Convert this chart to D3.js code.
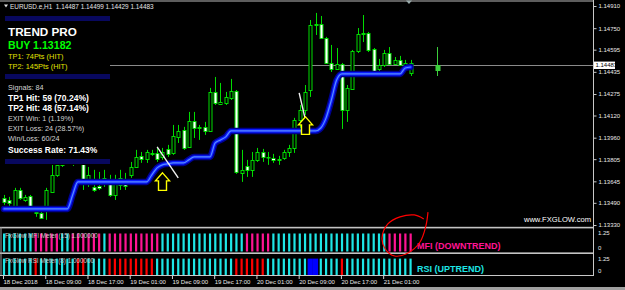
<!DOCTYPE html>
<html><head><meta charset="utf-8">
<script src="https://cdn.jsdelivr.net/npm/d3@7"></script>
<style>html,body{margin:0;padding:0;background:#000;overflow:hidden}svg{display:block}text{font-family:"Liberation Sans",Arial,sans-serif}</style>
</head><body><svg id="c" width="625" height="290"></svg>
<script>
// ---------- DATA (EURUSD H1, bar index 0 = 18 Dec 01:00) ----------
const openP  = [1.13526,1.13511,1.13468,1.13583,1.13511,1.13540,1.13418,1.13418,1.13468,1.13569,
1.13692,1.13764,1.13872,1.13785,1.13857,1.13778,1.13641,1.13605,1.13612,1.13641,
1.13634,1.13547,1.13619,1.13656,1.13692,1.13749,1.13829,1.13807,1.13850,1.13850,
1.13821,1.13879,1.13850,1.13966,1.14016,1.13893,1.14081,1.14038,1.14038,1.14009,
1.14290,1.14203,1.14211,1.14247,1.14297,1.13706,1.13756,1.13728,1.13800,1.13857,
1.13821,1.13814,1.13807,1.13814,1.13857,1.13886,1.14088,1.14160,1.14304,1.14780,
1.14780,1.14679,1.14499,1.14456,1.14492,1.14160,1.14312,1.14586,1.14715,1.14715,
1.14600,1.14456,1.14485,1.14571,1.14492,1.14521,1.14470,1.14427,null,null,null,null,1.14449];
const highP  = [1.13547,1.13533,1.13598,1.13598,1.13547,1.13547,1.13432,1.13425,1.13598,1.13778,
1.13800,1.13872,1.13908,1.13922,1.13893,1.13814,1.13749,1.13728,1.13713,1.13728,
1.13692,1.13692,1.13728,1.13706,1.13785,1.13872,1.13857,1.13872,1.13872,1.13893,
1.13886,1.13908,1.14052,1.14052,1.14038,1.14146,1.14146,1.14052,1.14074,1.14319,
1.14398,1.14355,1.14290,1.14384,1.14304,1.13872,1.13800,1.13857,1.13886,1.13879,
1.13857,1.13843,1.13829,1.13872,1.13908,1.14103,1.14196,1.14340,1.14809,1.14860,
1.14838,1.14687,1.14629,1.14607,1.14499,1.14340,1.14593,1.14751,1.14845,1.14723,
1.14607,1.14528,1.14593,1.14614,1.14542,1.14550,1.14521,1.14521,null,null,null,null,1.14614];
const lowP   = [1.13475,1.13468,1.13439,1.13511,1.13497,1.13461,1.13389,1.13374,1.13367,1.13562,
1.13677,1.13749,1.13778,1.13756,1.13764,1.13583,1.13605,1.13569,1.13583,1.13605,
1.13533,1.13511,1.13583,1.13583,1.13670,1.13742,1.13778,1.13778,1.13829,1.13785,
1.13800,1.13821,1.13836,1.13922,1.13872,1.13886,1.13958,1.13944,1.13980,1.14002,
1.14196,1.14196,1.14196,1.14232,1.13699,1.13641,1.13677,1.13677,1.13785,1.13785,
1.13764,1.13778,1.13764,1.13800,1.13821,1.13850,1.14016,1.14124,1.14254,1.14701,
1.14672,1.14492,1.14434,1.14449,1.14023,1.14074,1.14304,1.14571,1.14650,1.14578,
1.14434,1.14434,1.14470,1.14485,1.14485,1.14477,1.14449,1.14405,null,null,null,null,1.14405];
const closeP = [1.13497,1.13490,1.13583,1.13526,1.13533,1.13468,1.13425,1.13382,1.13583,1.13692,
1.13764,1.13814,1.13800,1.13872,1.13778,1.13656,1.13692,1.13583,1.13598,1.13670,
1.13547,1.13641,1.13670,1.13612,1.13749,1.13821,1.13807,1.13857,1.13846,1.13807,
1.13857,1.13843,1.13973,1.14009,1.13886,1.14081,1.14030,1.14034,1.14009,1.14290,
1.14211,1.14218,1.14254,1.14297,1.13713,1.13728,1.13728,1.13800,1.13857,1.13821,
1.13818,1.13800,1.13803,1.13857,1.13886,1.14088,1.14160,1.14290,1.14773,1.14776,
1.14679,1.14499,1.14456,1.14492,1.14160,1.14319,1.14586,1.14708,1.14711,1.14593,
1.14441,1.14485,1.14571,1.14492,1.14521,1.14485,1.14499,1.14499,null,null,null,null,1.14483];
const liveBar = 82;
// Trend Pro stop line (one value per bar 0..77)
const trendLine = [1.13446,1.13446,1.13446,1.13446,1.13446,1.13446,1.13446,1.13446,1.13446,1.13446,
1.13446,1.13446,1.13446,1.13547,1.13641,1.13641,1.13641,1.13641,1.13641,1.13641,
1.13641,1.13641,1.13641,1.13641,1.13641,1.13641,1.13641,1.13641,1.13692,1.13742,
1.13764,1.13771,1.13778,1.13778,1.13778,1.13800,1.13821,1.13821,1.13821,1.13821,
1.13922,1.13944,1.13966,1.14009,1.14009,1.14009,1.14009,1.14009,1.14009,1.14009,
1.14009,1.14009,1.14009,1.14009,1.14009,1.14009,1.14009,1.14009,1.14009,1.14009,
1.14030,1.14103,1.14232,1.14376,1.14420,1.14420,1.14420,1.14420,1.14420,1.14420,
1.14420,1.14420,1.14420,1.14420,1.14420,1.14420,1.14463,1.14470];
// MFI meter state per bar (U = up, D = down), RSI meter (U up, D down, N neutral)
const mfiState = ("UUUUUU"+"DDDDD"+"UU"+"DDDDDD"+"U"+"DDDDDDDDDD"+"UUUUUUUUUUUUUUUU"+"DDDDD"+"UUUUUUUUUUUUUUUUUUUUUU"+"DDDDD").split("");
const rsiState = ("UUUUUU"+"D"+"UUUUUUU"+"DD"+"UUUU"+"DDDDDDDDD"+"UUUUUUUUUUUUUUU"+"DDDDDD"+"UUUUUUUU"+"NN"+"UUUU"+"D"+"UUUUUUUUUUUUU").split("");
const meterValue = 1;
const priceTicks = [1.14910,1.14750,1.14595,1.14435,1.14275,1.14120,1.13960,1.13805,1.13645,1.13490,1.13330];
const timeTickBars = [0,8,16,24,32,40,48,56,64,72];
const timeLabels = ["18 Dec 2018","18 Dec 09:00","18 Dec 17:00","19 Dec 01:00","19 Dec 09:00","19 Dec 17:00","20 Dec 01:00","20 Dec 09:00","20 Dec 17:00","21 Dec 01:00"];
const currentPrice = 1.14483;
const headerText = "EURUSD.e,H1  1.14487 1.14499 1.14429 1.14483";
const signalBars = [30, 57];
const signalTips = [1.13706, 1.14110];
const exitLines = [[[29,1.13893],[33,1.13670]],[[55.9,1.14283],[57,1.14103]]];
const circleNote = [[80.3,2.19],[79.9,1.42],[78.8,0.53],[76.5,-0.08],[74.0,-0.25],[72.2,0.14],[71.6,0.75],[72.7,1.53],[75.0,1.92],[77.7,2.03],[79.5,1.81]];
const panelTitle = ["TREND PRO","BUY 1.13182","TP1: 74Pts (HIT)","TP2: 145Pts (HIT)"];
const statsLines = ["Signals: 84","TP1 Hit: 59 (70.24%)","TP2 Hit: 48 (57.14%)","EXIT Win: 1 (1.19%)","EXIT Loss: 24 (28.57%)","Win/Loss: 60/24","Success Rate: 71.43%"];

// ---------- DRAW ----------
const svg = d3.select('#c');
svg.append('rect').attr('width',625).attr('height',290).attr('fill','#000');
const x = d3.scaleLinear().domain([0,77]).range([4,410.56]);
const y = d3.scaleLinear().domain([1.13330,1.14910]).range([225,6]);
const mfiY = d3.scaleLinear().domain([0,1.25]).range([251.5,229]);
const rsiY = d3.scaleLinear().domain([0,1.25]).range([275,254.5]);
const AX = 593.5;
const GREEN = '#00dc00';

// frame lines
svg.append('line').attr('x1',0).attr('x2',AX).attr('y1',1).attr('y2',1).attr('stroke','#7c7c7c').attr('stroke-width',1.6);
svg.append('path').attr('d',`M${x(76.7)-3},0.5 L${x(76.7)+3},0.5 L${x(76.7)},4 Z`).attr('fill','#9aa');
// current price line
svg.append('line').attr('x1',0).attr('x2',AX).attr('y1',Math.round(y(currentPrice))+0.5).attr('y2',Math.round(y(currentPrice))+0.5).attr('stroke','#8a8a8a').attr('stroke-width',1);

// candles
const bars = openP.map((o,i)=>({i,o,h:highP[i],l:lowP[i],c:closeP[i]})).filter(d=>d.o!=null);
const cg = svg.append('g');
bars.forEach(d=>{
  const cx = Math.round(x(d.i))+0.5;
  const live = d.i===liveBar;
  const col = live ? '#3ccf3c' : GREEN;
  cg.append('line').attr('x1',cx).attr('x2',cx).attr('y1',y(d.h)).attr('y2',y(d.l)).attr('stroke',col).attr('stroke-width',1);
  const top = y(Math.max(d.o,d.c)), bot = y(Math.min(d.o,d.c));
  const bear = d.c < d.o;
  cg.append('rect').attr('x',cx-1.5).attr('y',Math.round(top)+0.5).attr('width',live?4:3)
    .attr('height',Math.max(0.5,Math.round(bot-top)))
    .attr('fill', live ? col : (bear ? '#ffffff' : '#000000'))
    .attr('stroke',col).attr('stroke-width',1);
});

// trend line (glow)
const tl = d3.line().x((d,i)=>x(i)).y(d=>y(d)).curve(d3.curveMonotoneX);
const tg = svg.append('g').attr('fill','none').attr('stroke-linecap','round').attr('stroke-linejoin','round');
tg.append('path').attr('d',tl(trendLine)).attr('stroke','#00008e').attr('stroke-width',6.5);
tg.append('path').attr('d',tl(trendLine)).attr('stroke','#0a1cff').attr('stroke-width',3.6);
tg.append('path').attr('d',tl(trendLine)).attr('stroke','#5a8dff').attr('stroke-width',1.2);

// exit lines
exitLines.forEach(seg=>{
  svg.append('line').attr('x1',x(seg[0][0])).attr('y1',y(seg[0][1])).attr('x2',x(seg[1][0])).attr('y2',y(seg[1][1]))
    .attr('stroke','#f2f2f2').attr('stroke-width',1.4);
});
// buy arrows
signalBars.forEach((b,k)=>{
  const tx = Math.round(x(b))+0.5, ty = y(signalTips[k]);
  svg.append('path').attr('d',`M${tx},${ty} L${tx+7},${ty+8} L${tx+4},${ty+8} L${tx+4},${ty+17.5} L${tx-4},${ty+17.5} L${tx-4},${ty+8} L${tx-7},${ty+8} Z`)
    .attr('fill','#000').attr('stroke','#ffff00').attr('stroke-width',1.4).attr('stroke-linejoin','miter');
});

// info panel
svg.append('rect').attr('x',0).attr('y',11).attr('width',110).attr('height',154).attr('fill','#000');
[[16,5],[74,5],[159,5]].forEach(s=>svg.append('rect').attr('x',5).attr('y',s[0]).attr('width',105).attr('height',s[1]).attr('fill','#08085e'));
const titleStyle = [
  {y:36, size:11.7, w:'bold', c:'#ffffff'},
  {y:49, size:10.6, w:'bold', c:'#00ff00'},
  {y:59, size:7.4, w:'normal', c:'#e3e300'},
  {y:68.5, size:7.4, w:'normal', c:'#e3e300'}];
panelTitle.forEach((t,k)=>{
  const s=titleStyle[k];
  svg.append('text').attr('x',8).attr('y',s.y).attr('font-size',s.size).attr('font-weight',s.w).attr('fill',s.c).text(t);
});
const statBold=[false,true,true,false,false,false,true];
const statY=[89.5,100.5,110.5,120.5,130.5,140.5,152.5];
statsLines.forEach((t,k)=>{
  svg.append('text').attr('x',8).attr('y',statY[k]).attr('font-size',statBold[k]?8.5:7.2)
    .attr('font-weight',statBold[k]?'bold':'normal').attr('fill',statBold[k]?'#ffffff':'#d4d4d4').text(t);
});
// header
svg.append('path').attr('d','M4,4.5 L8,4.5 L6,7.5 Z').attr('fill','#e0e0e0');
svg.append('text').attr('x',10).attr('y',8.6).attr('font-size',6.4).attr('fill','#e6e6e6').attr('xml:space','preserve').text(headerText);

// watermark
svg.append('text').attr('x',591).attr('y',221.5).attr('text-anchor','end').attr('font-size',7.6).attr('fill','#ffffff').text('www.FXGLOW.com');

// separators
svg.append('rect').attr('x',0).attr('y',226.8).attr('width',AX).attr('height',1.6).attr('fill','#c4c4c4');
svg.append('rect').attr('x',0).attr('y',252.4).attr('width',AX).attr('height',1.6).attr('fill','#c4c4c4');
svg.append('line').attr('x1',1).attr('x2',1).attr('y1',227).attr('y2',276).attr('stroke','#9a9a9a');

// meters
const mcol = {U:'#1ee6e6', D:'#ff1493'};
const rcol = {U:'#1ee6e6', D:'#ff0000', N:'#0000ff'};
mfiState.forEach((s,i)=>{
  svg.append('rect').attr('x',x(i)-1).attr('y',mfiY(meterValue)).attr('width',2.2).attr('height',mfiY(0)-mfiY(meterValue)).attr('fill',mcol[s]);
});
rsiState.forEach((s,i)=>{
  const w = s==='N'?5.3:2.2;
  svg.append('rect').attr('x',x(i)-w/2).attr('y',rsiY(meterValue)).attr('width',w).attr('height',rsiY(0)-rsiY(meterValue)).attr('fill',rcol[s]);
});
svg.append('text').attr('x',5).attr('y',238).attr('font-size',6.3).attr('fill','#c8c8c8').text('FxGlow MFI Meter (15) 1.000000');
svg.append('text').attr('x',5).attr('y',262.5).attr('font-size',6.3).attr('fill','#c8c8c8').text('FxGlow RSI Meter (8) 1.000000');
svg.append('text').attr('x',417).attr('y',249).attr('font-size',9).attr('font-weight','bold').attr('fill','#ff1493').text('MFI (DOWNTREND)');
svg.append('text').attr('x',417).attr('y',272).attr('font-size',9).attr('font-weight','bold').attr('fill','#1ee6e6').text('RSI (UPTREND)');

// red hand-drawn circle
const cl = d3.line().x(d=>x(d[0])).y(d=>mfiY(d[1])).curve(d3.curveCatmullRom);
svg.append('path').attr('d',cl(circleNote)).attr('fill','none').attr('stroke','#ff0000').attr('stroke-width',1.2);

// right axis
svg.append('line').attr('x1',AX).attr('x2',AX).attr('y1',0).attr('y2',276).attr('stroke','#c8c8c8');
const ya = svg.append('g').attr('transform',`translate(${AX},0)`)
  .call(d3.axisRight(y).tickValues(priceTicks).tickFormat(d3.format('.5f')).tickSize(3).tickPadding(2));
ya.select('.domain').remove();
ya.selectAll('line').attr('stroke','#c8c8c8');
ya.selectAll('text').attr('font-size',6).attr('fill','#e8e8e8').attr('font-family','"Liberation Sans",Arial,sans-serif');
// current price label
const cpY = y(currentPrice);
svg.append('rect').attr('x',AX+0.5).attr('y',cpY-3.6).attr('width',21).attr('height',7.4).attr('fill','#ffffff');
svg.append('text').attr('x',AX+2).attr('y',cpY+2.2).attr('font-size',6).attr('fill','#000').text(d3.format('.5f')(currentPrice));
// meter axes
[[mfiY,0],[rsiY,0]].forEach(([sc])=>{
  svg.append('text').attr('x',598).attr('y',sc(1.25)+6.2).attr('font-size',6).attr('fill','#e8e8e8').text('1.25');
  svg.append('text').attr('x',598).attr('y',sc(0)-2).attr('font-size',6).attr('fill','#e8e8e8').text('0');
});

// bottom time axis
svg.append('line').attr('x1',0).attr('x2',AX).attr('y1',275.5).attr('y2',275.5).attr('stroke','#c8c8c8');
const xa = svg.append('g').attr('transform','translate(-1,275.5)')
  .call(d3.axisBottom(x).tickValues(timeTickBars).tickFormat((d,k)=>timeLabels[k]).tickSize(3.5).tickPadding(1));
xa.select('.domain').remove();
xa.selectAll('line').attr('stroke','#d0d0d0');
xa.selectAll('text').attr('text-anchor','start').attr('font-size',6).attr('fill','#e8e8e8').attr('font-family','"Liberation Sans",Arial,sans-serif');
// bottom strip
svg.append('rect').attr('x',0).attr('y',287).attr('width',625).attr('height',3).attr('fill','#a0a0a0');
</script></body></html>
